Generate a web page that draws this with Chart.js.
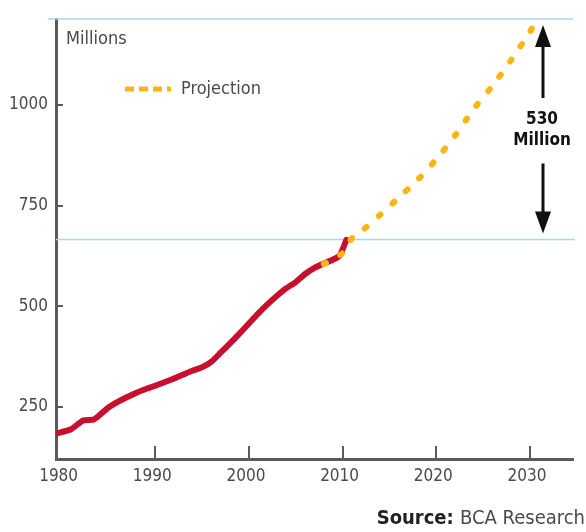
<!DOCTYPE html>
<html>
<head>
<meta charset="utf-8">
<script src="https://cdn.jsdelivr.net/npm/chart.js@4.4.0/dist/chart.umd.min.js"></script>
<style>
	html, body { margin: 0; padding: 0; background: #fff; }
	#wrap { width: 586px; height: 532px; }
</style>
</head>
<body>
<div id="wrap"><canvas id="myChart" width="586" height="532"></canvas></div>
<script>
const years = [1979.4, 1981, 1982.3, 1983.4, 1984, 1985, 1986, 1987, 1988, 1989, 1990, 1991, 1992, 1993, 1994, 1995, 1996, 1997, 1998, 1999, 2000, 2001, 2002, 2003, 2004, 2005, 2006, 2007, 2008, 2009, 2009.7, 2010.4];
const values = [183, 194, 216, 218, 228, 248, 262, 274, 285, 294, 302, 311, 320, 330, 340, 348, 362, 385, 408, 432, 457, 482, 505, 526, 545, 560, 580, 595, 606, 616, 626, 665];

// projection
const projYears = [2008, 2010, 2011, 2012, 2014, 2016, 2018, 2020, 2022, 2024, 2026, 2028, 2030, 2030.3];
const projValues = [605, 632, 669, 686, 727, 770, 814, 865, 924, 990, 1048, 1112, 1182, 1194];

const xTicks = [1980, 1990, 2000, 2010, 2020, 2030];
const yTicks = [250, 500, 750, 1000];
const lineLow = 666;
const lineHigh = 1214;

const FONT = "'Liberation Sans Narrow', 'Arial Narrow', 'DejaVu Sans Condensed', sans-serif";
const RED = '#c8102e';
const GOLD = '#fdb515';
const AXIS = '#5a5a5a';

const extras = {
	id: 'extras',
	beforeDatasetsDraw(chart) {
		const { ctx, chartArea, scales: { x, y } } = chart;
		ctx.save();
		// light blue reference lines
		ctx.strokeStyle = '#a9d9e8';
		ctx.lineWidth = 1.5;
		ctx.beginPath();
		ctx.moveTo(chartArea.left - 8, y.getPixelForValue(lineHigh));
		ctx.lineTo(chartArea.right, y.getPixelForValue(lineHigh));
		ctx.moveTo(chartArea.left, y.getPixelForValue(lineLow));
		ctx.lineTo(chartArea.right + 2, y.getPixelForValue(lineLow));
		ctx.stroke();

		// inward tick marks
		ctx.strokeStyle = AXIS;
		ctx.lineWidth = 2;
		ctx.beginPath();
		xTicks.forEach((v, i) => {
			if (i == 0) return;
			const px = Math.round(x.getPixelForValue(v));
			ctx.moveTo(px, chartArea.bottom);
			ctx.lineTo(px, chartArea.bottom - 13);
		});
		yTicks.forEach(v => {
			const py = Math.round(y.getPixelForValue(v));
			ctx.moveTo(chartArea.left, py);
			ctx.lineTo(chartArea.left + 7, py);
		});
		ctx.stroke();
		ctx.restore();
	},
	afterDraw(chart) {
		const { ctx, chartArea, scales: { x, y } } = chart;
		ctx.save();
		ctx.fillStyle = '#4a4a4a';
		ctx.textBaseline = 'middle';
		ctx.font = '18px ' + FONT;
		ctx.fillText('Millions', 66, 39);
		ctx.fillText('Projection', 181, 89);

		// legend dashes
		ctx.strokeStyle = GOLD;
		ctx.lineWidth = 5;
		ctx.lineCap = 'butt';
		ctx.setLineDash([9, 5]);
		ctx.beginPath();
		ctx.moveTo(125, 89);
		ctx.lineTo(171, 89);
		ctx.stroke();
		ctx.setLineDash([]);

		// 530 million arrows
		const ax = 543;
		const yTop = y.getPixelForValue(lineHigh) + 6;
		const yBot = y.getPixelForValue(lineLow) - 6;
		ctx.fillStyle = '#111';
		ctx.strokeStyle = '#111';
		ctx.lineWidth = 3;
		ctx.beginPath();
		ctx.moveTo(ax, yTop + 18);
		ctx.lineTo(ax, yTop + 73);
		ctx.moveTo(ax, yBot - 18);
		ctx.lineTo(ax, yBot - 70);
		ctx.stroke();
		ctx.beginPath();
		ctx.moveTo(ax, yTop);
		ctx.lineTo(ax - 8, yTop + 22);
		ctx.lineTo(ax + 8, yTop + 22);
		ctx.closePath();
		ctx.moveTo(ax, yBot);
		ctx.lineTo(ax - 8, yBot - 22);
		ctx.lineTo(ax + 8, yBot - 22);
		ctx.closePath();
		ctx.fill();
		ctx.textAlign = 'center';
		ctx.font = 'bold 17px ' + FONT;
		ctx.fillText('530', ax - 1, 120);
		ctx.fillText('Million', ax - 1, 141);

		// source line
		ctx.textAlign = 'left';
		ctx.font = 'bold 20px ' + FONT;
		const w1 = ctx.measureText('Source: ').width;
		ctx.font = '20px ' + FONT;
		const w2 = ctx.measureText('BCA Research').width;
		const sx = 585 - w1 - w2;
		ctx.font = 'bold 20px ' + FONT;
		ctx.fillStyle = '#222';
		ctx.fillText('Source: ', sx, 519);
		ctx.font = '20px ' + FONT;
		ctx.fillStyle = '#4a4a4a';
		ctx.fillText('BCA Research', sx + w1, 519);
		ctx.restore();
	}
};

function init() {
	const ctx = document.getElementById('myChart').getContext('2d');
	new Chart(ctx, {
		type: 'line',
		data: {
			datasets: [{
				data: years.map((yr, i) => ({ x: yr, y: values[i] })),
				borderColor: RED,
				borderWidth: 6,
				borderCapStyle: 'round',
				borderJoinStyle: 'round',
				pointRadius: 0,
				tension: 0.2,
				order: 2
			}, {
				data: projYears.map((yr, i) => ({ x: yr, y: projValues[i] })),
				borderColor: GOLD,
				borderWidth: 6,
				borderDash: [2.5, 16],
				borderCapStyle: 'round',
				pointRadius: 0,
				tension: 0.3,
				order: 1
			}]
		},
		options: {
			responsive: false,
			animation: false,
			layout: { padding: { top: 19, right: 13, left: 0, bottom: 0 } },
			plugins: {
				legend: { display: false },
				tooltip: { enabled: false }
			},
			scales: {
				x: {
					type: 'linear',
					min: 1979.4,
					max: 2034.6,
					afterBuildTicks: s => { s.ticks = xTicks.map(v => ({ value: v })) },
					afterFit: s => { s.height = 73 },
					grid: { display: false, drawTicks: false },
					border: { display: true, color: AXIS, width: 3 },
					ticks: {
						padding: 7,
						labelOffset: -3,
						color: '#4a4a4a',
						font: { family: FONT, size: 17 },
						callback: v => String(v)
					}
				},
				y: {
					min: 120,
					max: lineHigh,
					afterBuildTicks: s => { s.ticks = yTicks.map(v => ({ value: v })) },
					afterFit: s => { s.width = 56 },
					grid: { display: false, drawTicks: false },
					border: { display: true, color: AXIS, width: 3 },
					ticks: {
						padding: 8,
						color: '#4a4a4a',
						font: { family: FONT, size: 17 },
						callback: v => String(v)
					}
				}
			}
		},
		plugins: [extras]
	});
}
init();
</script>
</body>
</html>
